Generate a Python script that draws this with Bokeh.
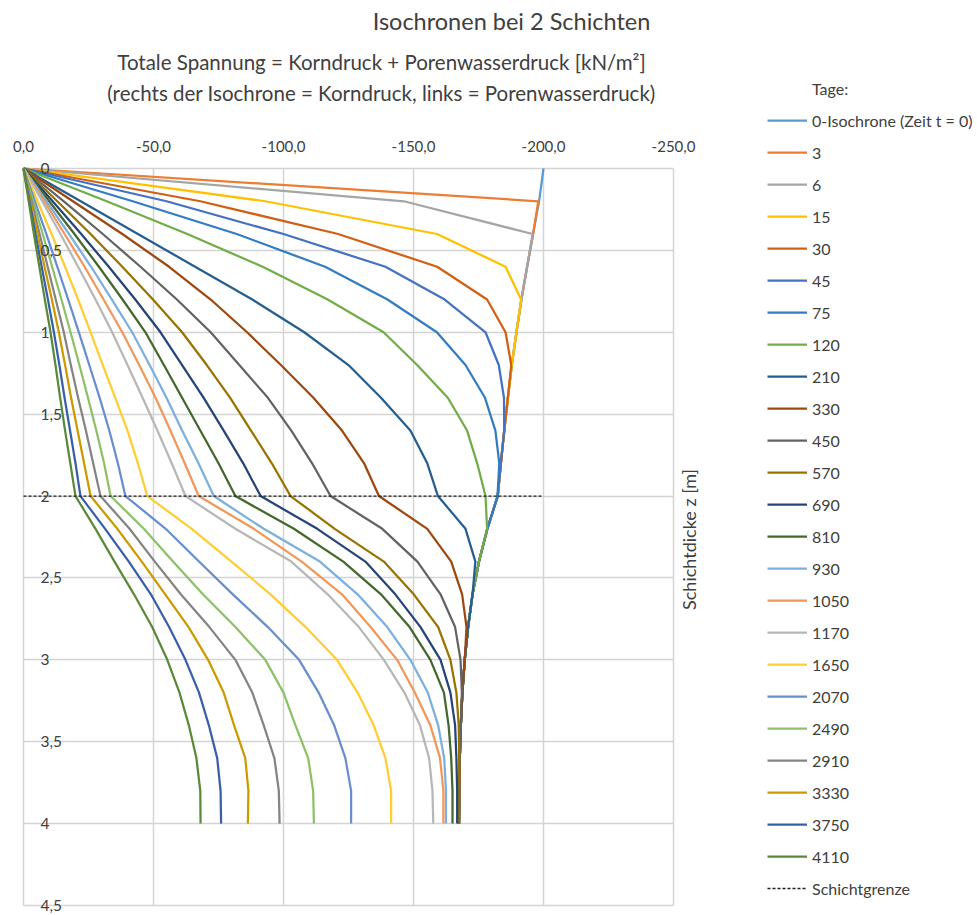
from bokeh.plotting import figure
from bokeh.models import (Range1d, FixedTicker, Legend, LegendItem, Label)
from bokeh.embed import file_html
from bokeh.resources import INLINE

# ---------------- data ----------------
depth_m = [0.0, 0.2, 0.4, 0.6, 0.8, 1.0, 1.2, 1.4, 1.6, 1.8, 2.0,
           2.2, 2.4, 2.6, 2.8, 3.0, 3.2, 3.4, 3.6, 3.8, 4.0]

iso_t0 = [-200.0, -198.3, -196.0, -193.7, -191.5, -189.6, -187.8, -186.3, -184.9, -183.6, -182.4,
          -178.4, -175.2, -172.7, -171.0, -169.7, -168.8, -168.2, -167.8, -167.6, -167.5]
t3 = [0.0, -198.0, -196.0, -193.7, -191.5, -189.6, -187.8, -186.3, -184.9, -183.6, -182.4,
      -178.4, -175.2, -172.7, -171.0, -169.7, -168.8, -168.2, -167.8, -167.6, -167.5]
t6 = [0.0, -146.3, -195.8, -193.7, -191.5, -189.6, -187.8, -186.3, -184.9, -183.6, -182.4,
      -178.4, -175.2, -172.7, -171.0, -169.7, -168.8, -168.2, -167.8, -167.6, -167.5]
t15 = [0.0, -93.0, -159.1, -185.4, -191.4, -189.6, -187.8, -186.3, -184.9, -183.6, -182.4,
       -178.4, -175.2, -172.7, -171.0, -169.7, -168.8, -168.2, -167.8, -167.6, -167.5]
t30 = [0.0, -68.0, -121.0, -159.1, -178.3, -185.4, -187.6, -186.3, -184.9, -183.6, -182.4,
       -178.4, -175.2, -172.7, -171.0, -169.7, -168.8, -168.2, -167.8, -167.6, -167.5]
t45 = [0.0, -55.0, -100.0, -139.2, -162.0, -177.7, -182.8, -184.8, -184.9, -183.6, -182.4,
       -178.4, -175.2, -172.7, -171.0, -169.7, -168.8, -168.2, -167.8, -167.6, -167.5]
t75 = [0.0, -42.0, -82.0, -116.0, -140.0, -159.0, -170.0, -177.5, -181.5, -183.0, -182.3,
       -178.4, -175.2, -172.7, -171.0, -169.7, -168.8, -168.2, -167.8, -167.6, -167.5]
t120 = [0.0, -32.0, -63.0, -92.0, -117.0, -138.5, -151.4, -163.2, -170.6, -174.5, -177.7,
        -178.3, -175.2, -172.7, -171.0, -169.7, -168.8, -168.2, -167.8, -167.6, -167.5]
t210 = [0.0, -22.0, -44.0, -66.0, -88.0, -108.0, -125.0, -137.5, -148.8, -155.3, -159.4,
        -170.0, -173.8, -172.7, -171.0, -169.7, -168.8, -168.2, -167.8, -167.6, -167.5]
t330 = [0.0, -19.0, -38.0, -56.0, -72.0, -86.0, -99.0, -111.5, -122.5, -131.0, -136.7,
        -155.3, -164.5, -168.7, -170.4, -169.7, -168.8, -168.2, -167.8, -167.6, -167.5]
t450 = [0.0, -15.5, -30.5, -45.0, -59.0, -72.0, -83.0, -94.0, -103.0, -111.0, -118.1,
        -138.0, -151.5, -160.4, -166.0, -168.1, -168.6, -168.2, -167.8, -167.6, -167.5]
t570 = [0.0, -13.0, -25.8, -38.0, -49.8, -61.0, -70.5, -79.5, -87.5, -95.5, -102.7,
        -119.7, -138.6, -150.1, -159.5, -164.2, -166.5, -167.4, -167.6, -167.6, -167.5]
t690 = [0.0, -11.2, -22.2, -32.8, -43.0, -52.7, -61.0, -69.3, -77.0, -84.5, -91.2,
        -113.0, -131.5, -143.0, -152.7, -160.4, -164.2, -166.0, -166.5, -166.8, -166.8]
t810 = [0.0, -9.9, -19.6, -29.0, -38.1, -46.9, -54.0, -61.0, -68.0, -75.0, -81.5,
        -104.0, -123.0, -137.5, -148.5, -156.5, -161.7, -163.5, -164.5, -165.0, -165.0]
t930 = [0.0, -8.8, -17.5, -26.0, -34.0, -41.8, -48.5, -55.0, -61.0, -67.3, -73.2,
        -92.4, -114.0, -128.5, -139.9, -148.8, -155.5, -159.5, -161.8, -162.5, -162.5]
t1050 = [0.0, -8.0, -15.8, -23.5, -30.8, -38.0, -44.5, -50.8, -56.5, -62.0, -67.4,
         -88.6, -107.0, -122.5, -133.5, -143.7, -150.5, -156.5, -160.2, -161.5, -161.5]
t1170 = [0.0, -7.2, -14.2, -21.0, -27.7, -34.1, -40.0, -45.8, -51.5, -57.0, -62.3,
         -81.5, -103.0, -117.0, -129.0, -138.6, -146.5, -152.5, -156.0, -157.3, -157.6]
t1650 = [0.0, -5.4, -10.8, -16.0, -21.0, -25.8, -30.5, -35.3, -40.0, -44.0, -47.6,
         -64.7, -80.0, -95.0, -108.5, -120.6, -128.5, -134.7, -139.2, -141.4, -141.4]
t2070 = [0.0, -4.4, -8.8, -13.0, -17.2, -21.3, -25.3, -29.3, -33.0, -36.3, -39.2,
         -54.7, -67.5, -80.5, -94.0, -106.0, -113.5, -119.5, -123.8, -126.0, -126.0]
t2490 = [0.0, -3.7, -7.4, -11.0, -14.6, -18.1, -21.5, -24.8, -28.0, -31.0, -33.5,
         -46.3, -57.5, -69.0, -81.5, -93.0, -100.0, -104.6, -109.5, -111.4, -111.7]
t2910 = [0.0, -3.1, -6.2, -9.3, -12.4, -15.5, -18.2, -21.0, -24.0, -26.8, -29.6,
         -40.8, -50.5, -60.5, -71.5, -81.5, -88.0, -92.4, -96.5, -98.2, -98.5]
t3330 = [0.0, -2.7, -5.4, -8.1, -10.9, -13.6, -16.0, -18.3, -20.8, -23.3, -25.8,
         -36.1, -45.5, -54.5, -63.5, -71.0, -77.0, -81.0, -85.3, -86.5, -86.3]
t3750 = [0.0, -2.3, -4.6, -7.0, -9.4, -11.7, -13.8, -15.8, -17.9, -20.0, -21.9,
         -31.4, -40.5, -49.0, -56.0, -62.3, -67.5, -71.3, -74.5, -75.8, -76.0]
t4110 = [0.0, -2.0, -4.0, -6.1, -8.2, -10.4, -12.3, -14.1, -16.0, -18.0, -20.0,
         -27.7, -35.0, -42.5, -49.5, -55.3, -60.0, -63.6, -66.5, -68.0, -68.1]

series_values = [iso_t0, t3, t6, t15, t30, t45, t75, t120, t210, t330, t450, t570,
                 t690, t810, t930, t1050, t1170, t1650, t2070, t2490, t2910, t3330,
                 t3750, t4110]
series_labels = ["0-Isochrone (Zeit t = 0)", "3", "6", "15", "30", "45", "75", "120",
                 "210", "330", "450", "570", "690", "810", "930", "1050", "1170", "1650",
                 "2070", "2490", "2910", "3330", "3750", "4110"]
series_colors = ["#5B9BD5", "#ED7D31", "#A5A5A5", "#FFC000", "#D26012", "#4472C4",
                 "#327DC2", "#70AD47", "#255E91", "#9E480E", "#636363", "#997300",
                 "#264478", "#43682B", "#7CAFDD", "#F1975A", "#B7B7B7", "#FFCD33",
                 "#698ED0", "#8CC168", "#848484", "#CC9A00", "#3A5FAA", "#5A8A39"]

schicht_x = [0.0, -200.0]
schicht_z = [2.0, 2.0]

x_ticks = [0, -50, -100, -150, -200, -250]
x_tick_labels = ["0,0", "-50,0", "-100,0", "-150,0", "-200,0", "-250,0"]
y_ticks = [0, 0.5, 1, 1.5, 2, 2.5, 3, 3.5, 4, 4.5]
y_tick_labels = ["0", "0,5", "1", "1,5", "2", "2,5", "3", "3,5", "4", "4,5"]

title_text = "Isochronen bei 2 Schichten"
sub1_text = "Totale Spannung = Korndruck + Porenwasserdruck [kN/m²]"
sub2_text = "(rechts der Isochrone = Korndruck, links = Porenwasserdruck)"
y_title_text = "Schichtdicke z [m]"
legend_title = "Tage:"
schicht_label = "Schichtgrenze"

# ---------------- layout (pixels) ----------------
FONT = "Lato"
TXT = "#404040"
GRID = "#D4D4D4"
W, H = 977, 915
CH_L, CH_R, CH_T, CH_B = 23, 673, 168, 905   # chart area in canvas pixels

x0, x1 = x_ticks[0], x_ticks[-1]
y0, y1 = y_ticks[0], y_ticks[-1]
xu = (x1 - x0) / (CH_R - CH_L)   # data per px
yu = (y1 - y0) / (CH_B - CH_T)

def px_x(px):
    return x0 + (px - CH_L) * xu

def px_y(py):
    return y0 + (py - CH_T) * yu

p = figure(width=W, height=H,
           x_range=Range1d(px_x(0), px_x(W)), y_range=Range1d(px_y(H), px_y(0)),
           x_axis_location="above", y_axis_location="right",
           output_backend="svg", toolbar_location=None,
           min_border_left=0, min_border_right=0, min_border_top=0, min_border_bottom=0,
           background_fill_color="white", border_fill_color="white")
p.title.visible = False
p.outline_line_color = None

# x axis (labels above the top edge of the chart area)
xa = p.xaxis[0]
xa.fixed_location = y0
xa.ticker = FixedTicker(ticks=x_ticks)
xa.major_label_overrides = {t: l for t, l in zip(x_ticks, x_tick_labels)}
xa.axis_line_color = None
xa.major_tick_line_color = None
xa.minor_tick_line_color = None
xa.major_tick_out = 0
xa.major_tick_in = 0
xa.major_label_standoff = 17
xa.major_label_text_font = FONT
xa.major_label_text_font_size = "15px"
xa.major_label_text_color = TXT

# y axis labels placed inside, right of the left edge
ya = p.yaxis[0]
ya.fixed_location = x0
ya.ticker = FixedTicker(ticks=y_ticks)
ya.major_label_overrides = {t: l for t, l in zip(y_ticks, y_tick_labels)}
ya.axis_line_color = None
ya.major_tick_line_color = None
ya.minor_tick_line_color = None
ya.major_tick_out = 0
ya.major_tick_in = 0
ya.major_label_standoff = 17
ya.major_label_text_font = FONT
ya.major_label_text_font_size = "15.5px"
ya.major_label_text_color = TXT

xg = p.xgrid[0]
xg.ticker = FixedTicker(ticks=x_ticks)
xg.cross_bounds = (y0, y1)
yg = p.ygrid[0]
yg.ticker = FixedTicker(ticks=y_ticks)
yg.cross_bounds = (x1, x0)
for g in (xg, yg):
    g.grid_line_color = GRID
    g.grid_line_width = 1.5

# series
renderers = []
for vals, col in zip(series_values, series_colors):
    r = p.line(x=vals, y=depth_m, line_color=col, line_width=2.25, line_join="round")
    renderers.append(r)
r_schicht = p.line(x=schicht_x, y=schicht_z, line_color="#1E1E1E", line_width=1.3,
                   line_dash="3 2")
r_dummy = p.line(x=[], y=[], line_alpha=0)

items = [LegendItem(label=legend_title, renderers=[r_dummy])]
items += [LegendItem(label=l, renderers=[r]) for l, r in zip(series_labels, renderers)]
items.append(LegendItem(label=schicht_label, renderers=[r_schicht]))

n_items = len(items)
item_h, item_sp = 20, 12
leg_h = n_items * item_h + (n_items - 1) * item_sp
leg_top = 78
leg = Legend(items=items, location=(767, H - leg_top - leg_h),
             glyph_width=40, glyph_height=item_h, label_height=item_h, spacing=item_sp,
             label_standoff=5, padding=0, margin=0, border_line_color=None,
             background_fill_alpha=0, label_text_font=FONT, label_text_font_size="16px",
             label_text_color=TXT)
p.add_layout(leg)

# titles
def lab(px, py, text, size, **kw):
    return Label(x=px_x(px), y=px_y(py), text=text, text_align="center",
                 text_baseline="middle", text_font=FONT, text_font_size=size,
                 text_color=TXT, **kw)

p.add_layout(lab(511, 20, title_text, "23.5px"))
p.add_layout(lab(381, 61, sub1_text, "20.5px"))
p.add_layout(lab(381, 92, sub2_text, "20.5px"))
p.add_layout(lab(688, 539, y_title_text, "18px", angle=90, angle_units="deg"))

open("out.html", "w").write(file_html(p, INLINE))
